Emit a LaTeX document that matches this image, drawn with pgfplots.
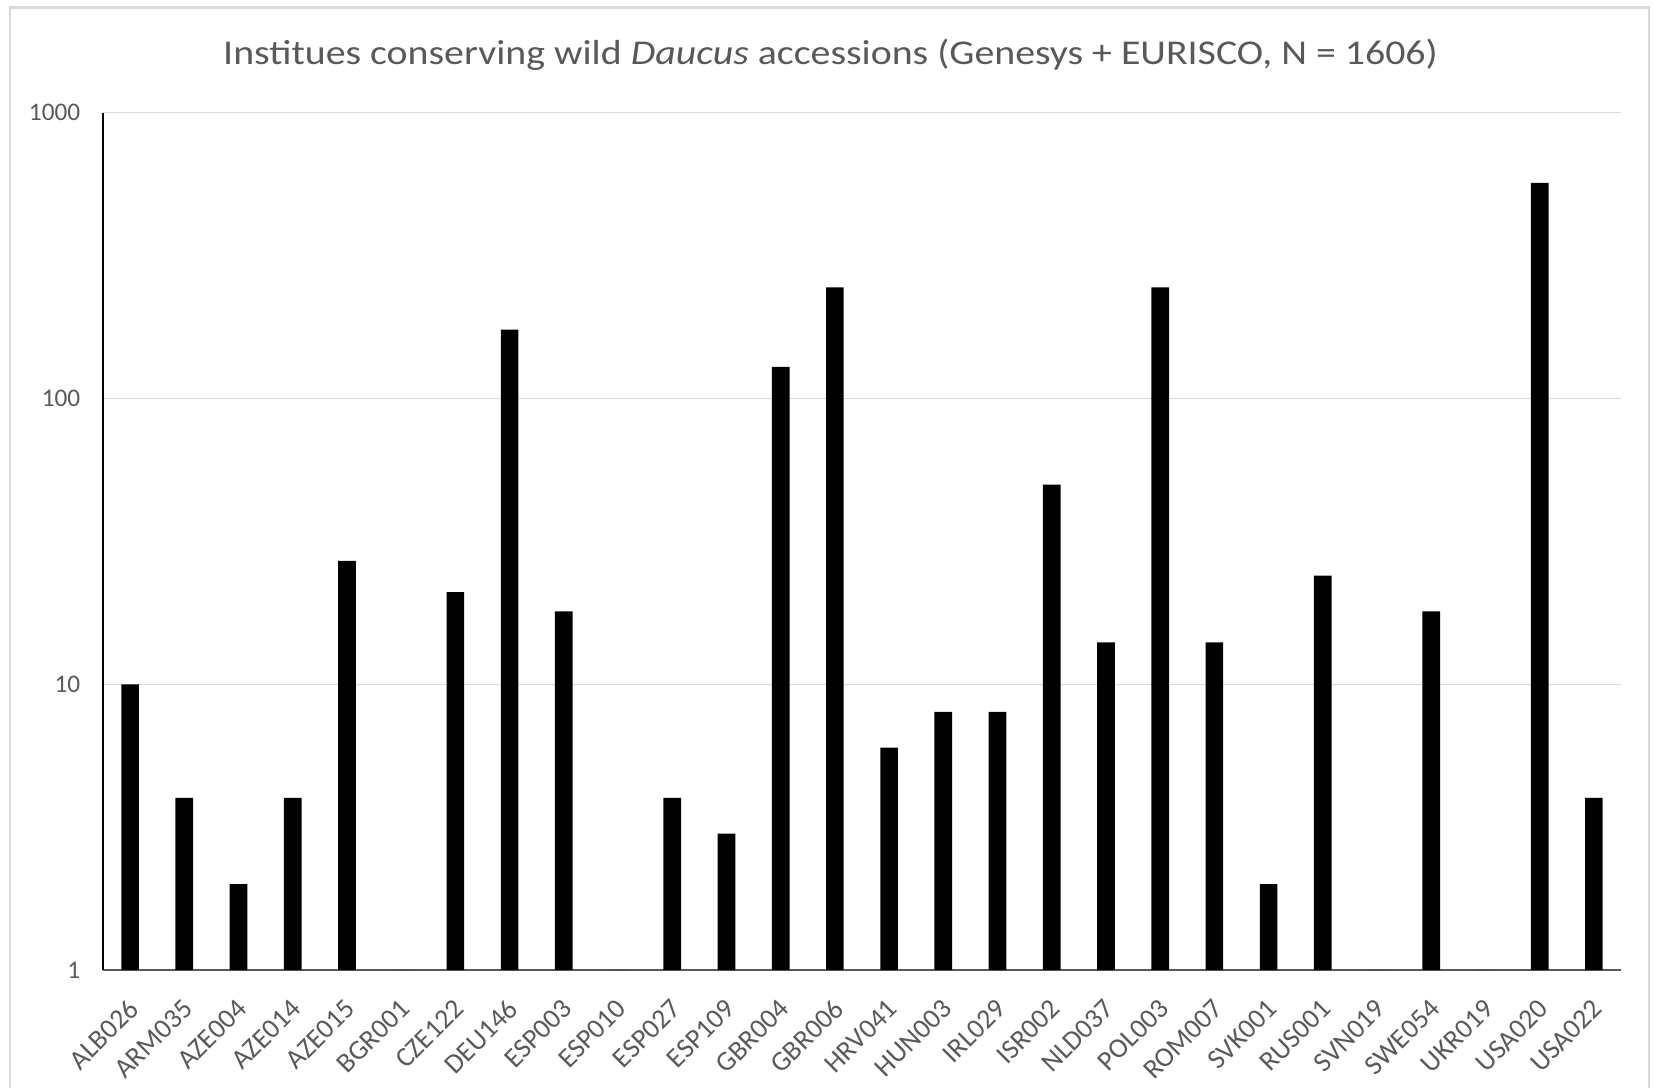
\documentclass[border=0pt]{standalone}
\usepackage{fontspec}
\setmainfont{Carlito}
\newfontfamily\titlefont[FakeStretch=1.145]{Carlito}
\usepackage{pgfplots}
\usepackage{pgfplotstable}
\pgfplotsset{compat=1.18}

\definecolor{txtgray}{HTML}{595959}
\definecolor{gridgray}{HTML}{D9D9D9}
\definecolor{framegray}{HTML}{D9D9D9}

% Wild Daucus accessions per holding institute (Genesys + EURISCO)
\pgfplotstableread{
idx name   count
0   ALB026 10
1   ARM035 4
2   AZE004 2
3   AZE014 4
4   AZE015 27
5   BGR001 1
6   CZE122 21
7   DEU146 174
8   ESP003 18
9   ESP010 1
10  ESP027 4
11  ESP109 3
12  GBR004 129
13  GBR006 245
14  HRV041 6
15  HUN003 8
16  IRL029 8
17  ISR002 50
18  NLD037 14
19  POL003 245
20  ROM007 14
21  SVK001 2
22  RUS001 24
23  SVN019 1
24  SWE054 18
25  UKR019 1
26  USA020 568
27  USA022 4
}\institutes

\begin{document}
\begin{tikzpicture}
\useasboundingbox (0,0) rectangle (16.53,-10.87);
% chart frame
\draw[framegray, line width=0.025cm] (0.10,-0.075) rectangle (16.49,-11.3);
% title
\node[anchor=base, text=txtgray, inner sep=0pt, font=\titlefont\fontsize{9.9pt}{11pt}\selectfont]
  at (8.305,-0.643) {Institues conserving wild \textit{Daucus} accessions (Genesys + EURISCO, N = 1606)};
\begin{axis}[
  at={(1.03cm,-9.70cm)}, anchor=south west,
  scale only axis,
  width=15.18cm, height=8.573cm,
  ymode=log, ymin=1, ymax=1000,
  log origin=infty,
  xmin=-0.5, xmax=27.5,
  xtick={0,...,27},
  xticklabels from table={\institutes}{name},
  ytick={1,10,100,1000},
  yticklabels={1,10,100,1000},
  minor ytick={}, yminorticks=false,
  major tick length=0pt,
  ymajorgrids, grid style={gridgray, line width=0.01cm},
  axis x line*=bottom, axis y line*=left,
  x axis line style={black!65, line width=0.012cm},
  y axis line style={black, line width=0.013cm},
  tick label style={text=txtgray, inner sep=0pt},
  yticklabel style={anchor=east, xshift=-0.22cm, font=\fontsize{7.2pt}{8pt}\selectfont},
  xticklabel style={xshift=0.04cm, yshift=-0.34cm, rotate=45, anchor=east,
                    font=\fontsize{7.9pt}{9pt}\selectfont},
  clip=false,
]
\addplot[ybar, bar width=0.177cm, fill=black, draw=none]
  table[x=idx, y=count] {\institutes};
\end{axis}
\end{tikzpicture}
\end{document}
